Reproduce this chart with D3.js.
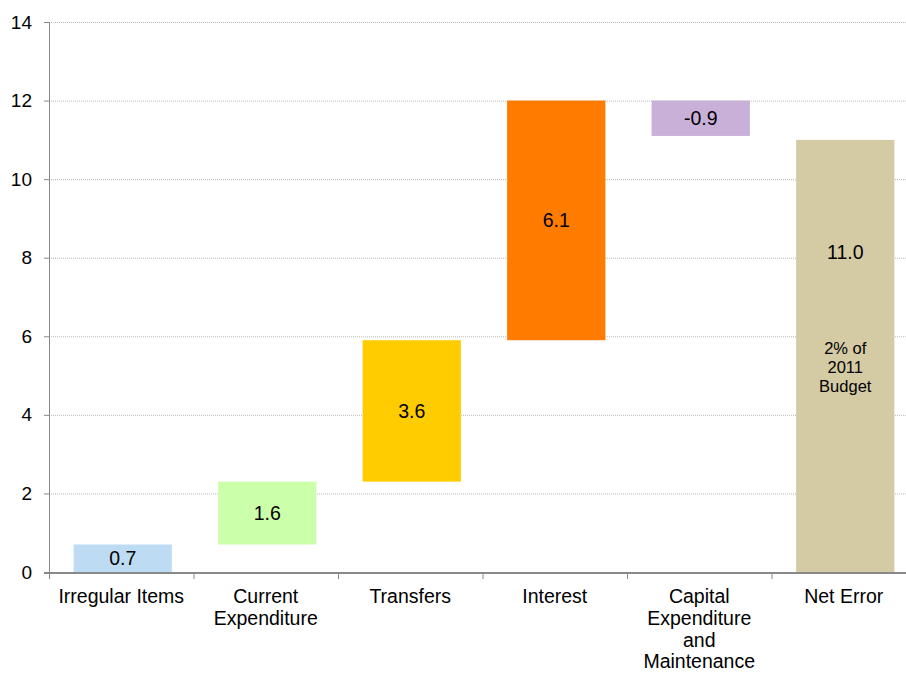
<!DOCTYPE html>
<html>
<head>
<meta charset="utf-8">
<script src="https://cdn.jsdelivr.net/npm/d3@7"></script>
<style>
  html, body { margin: 0; padding: 0; background: #fff; }
  svg { display: block; font-family: "Liberation Sans", Arial, sans-serif; }
</style>
</head>
<body>
<svg id="chart" width="906" height="673"></svg>
<script>
// Waterfall of budget deviation components
const categories = ["Irregular Items", "Current Expenditure", "Transfers", "Interest",
                    "Capital Expenditure and Maintenance", "Net Error"];
const categoryLines = [["Irregular Items"], ["Current", "Expenditure"], ["Transfers"], ["Interest"],
                       ["Capital", "Expenditure", "and", "Maintenance"], ["Net Error"]];
const values = [0.7, 1.6, 3.6, 6.1, -0.9, 11.0];
const isTotal = [false, false, false, false, false, true];
const colors = ["#BDDCF4", "#CCFFAA", "#FFCC00", "#FF7C00", "#C9B0D8", "#D4CBA4"];
const yTicks = [0, 2, 4, 6, 8, 10, 12, 14];
const totalNote = ["2% of", "2011", "Budget"];

const svg = d3.select("#chart");
const margin = { left: 49, right: 916, top: 22, bottom: 572 };

const x = d3.scaleBand().domain(categories).range([margin.left + 1.5, margin.right + 1.5]).paddingInner(0.32).paddingOuter(0.16);
const xEdges = d3.scaleBand().domain(categories).range([margin.left, margin.right]).padding(0);
const y = d3.scaleLinear().domain([0, 14]).range([margin.bottom, margin.top]);

// running totals for the floating bars
let run = 0;
const bars = values.map((v, i) => {
  let lo, hi;
  if (isTotal[i]) { lo = 0; hi = v; run = v; }
  else { const start = run; run = +(run + v).toFixed(2); lo = Math.min(start, run); hi = Math.max(start, run); }
  return { cat: categories[i], v, lo, hi, color: colors[i], total: isTotal[i], lines: categoryLines[i] };
});

// gridlines
svg.append("g").selectAll("line").data(yTicks.filter(t => t > 0)).join("line")
  .attr("x1", margin.left).attr("x2", 906)
  .attr("y1", d => y(d) + 0.5).attr("y2", d => y(d) + 0.5)
  .attr("stroke", "#b8b8b8").attr("stroke-width", 1).attr("stroke-dasharray", "1,1");

// bars
svg.append("g").selectAll("rect").data(bars).join("rect")
  .attr("x", d => x(d.cat)).attr("width", x.bandwidth())
  .attr("y", d => y(d.hi)).attr("height", d => y(d.lo) - y(d.hi))
  .attr("fill", d => d.color);

// value labels
svg.append("g").selectAll("text").data(bars).join("text")
  .attr("x", d => x(d.cat) + x.bandwidth() / 2)
  .attr("y", d => d.total ? y(d.lo + (d.hi - d.lo) * 0.74) : y((d.lo + d.hi) / 2))
  .attr("dy", "0.35em").attr("text-anchor", "middle")
  .attr("font-size", 19.5).attr("fill", "#000")
  .text(d => d.v.toFixed(1));

// note inside the total bar
const totalBar = bars.find(d => d.total);
svg.append("text")
  .attr("x", x(totalBar.cat) + x.bandwidth() / 2)
  .attr("y", y(5.55))
  .attr("text-anchor", "middle").attr("font-size", 16.5).attr("fill", "#000")
  .selectAll("tspan").data(totalNote).join("tspan")
  .attr("x", x(totalBar.cat) + x.bandwidth() / 2)
  .attr("dy", (d, i) => i === 0 ? 0 : "1.15em")
  .text(d => d);

// y axis
const yAxis = svg.append("g").attr("transform", `translate(${margin.left},0)`)
  .call(d3.axisLeft(y).tickValues(yTicks).tickSize(5).tickPadding(12).tickFormat(d3.format("d")));
yAxis.select(".domain").attr("stroke", "#888").attr("d", `M-5,${margin.top + 0.5}H0.5V${margin.bottom}`);
yAxis.selectAll(".tick line").attr("stroke", "#888");
yAxis.selectAll(".tick text").attr("font-size", 19).attr("fill", "#000").attr("font-family", "Liberation Sans, Arial, sans-serif");

// x axis baseline and category ticks
svg.append("line").attr("x1", margin.left - 5).attr("x2", 906)
  .attr("y1", margin.bottom + 1).attr("y2", margin.bottom + 1)
  .attr("stroke", "#888").attr("stroke-width", 2);
svg.append("g").selectAll("line").data(categories).join("line")
  .attr("x1", d => xEdges(d) + 0.5).attr("x2", d => xEdges(d) + 0.5)
  .attr("y1", margin.bottom).attr("y2", margin.bottom + 7)
  .attr("stroke", "#888");

// category labels
const catLabels = svg.append("g").selectAll("text").data(bars).join("text")
  .attr("text-anchor", "middle").attr("font-size", 19.5).attr("fill", "#000")
  .attr("y", 603);
catLabels.selectAll("tspan").data(d => d.lines.map(l => ({ l, cx: xEdges(d.cat) + xEdges.bandwidth() / 2 }))).join("tspan")
  .attr("x", d => d.cx).attr("dy", (d, i) => i === 0 ? 0 : 21.8)
  .text(d => d.l);
</script>
</body>
</html>
